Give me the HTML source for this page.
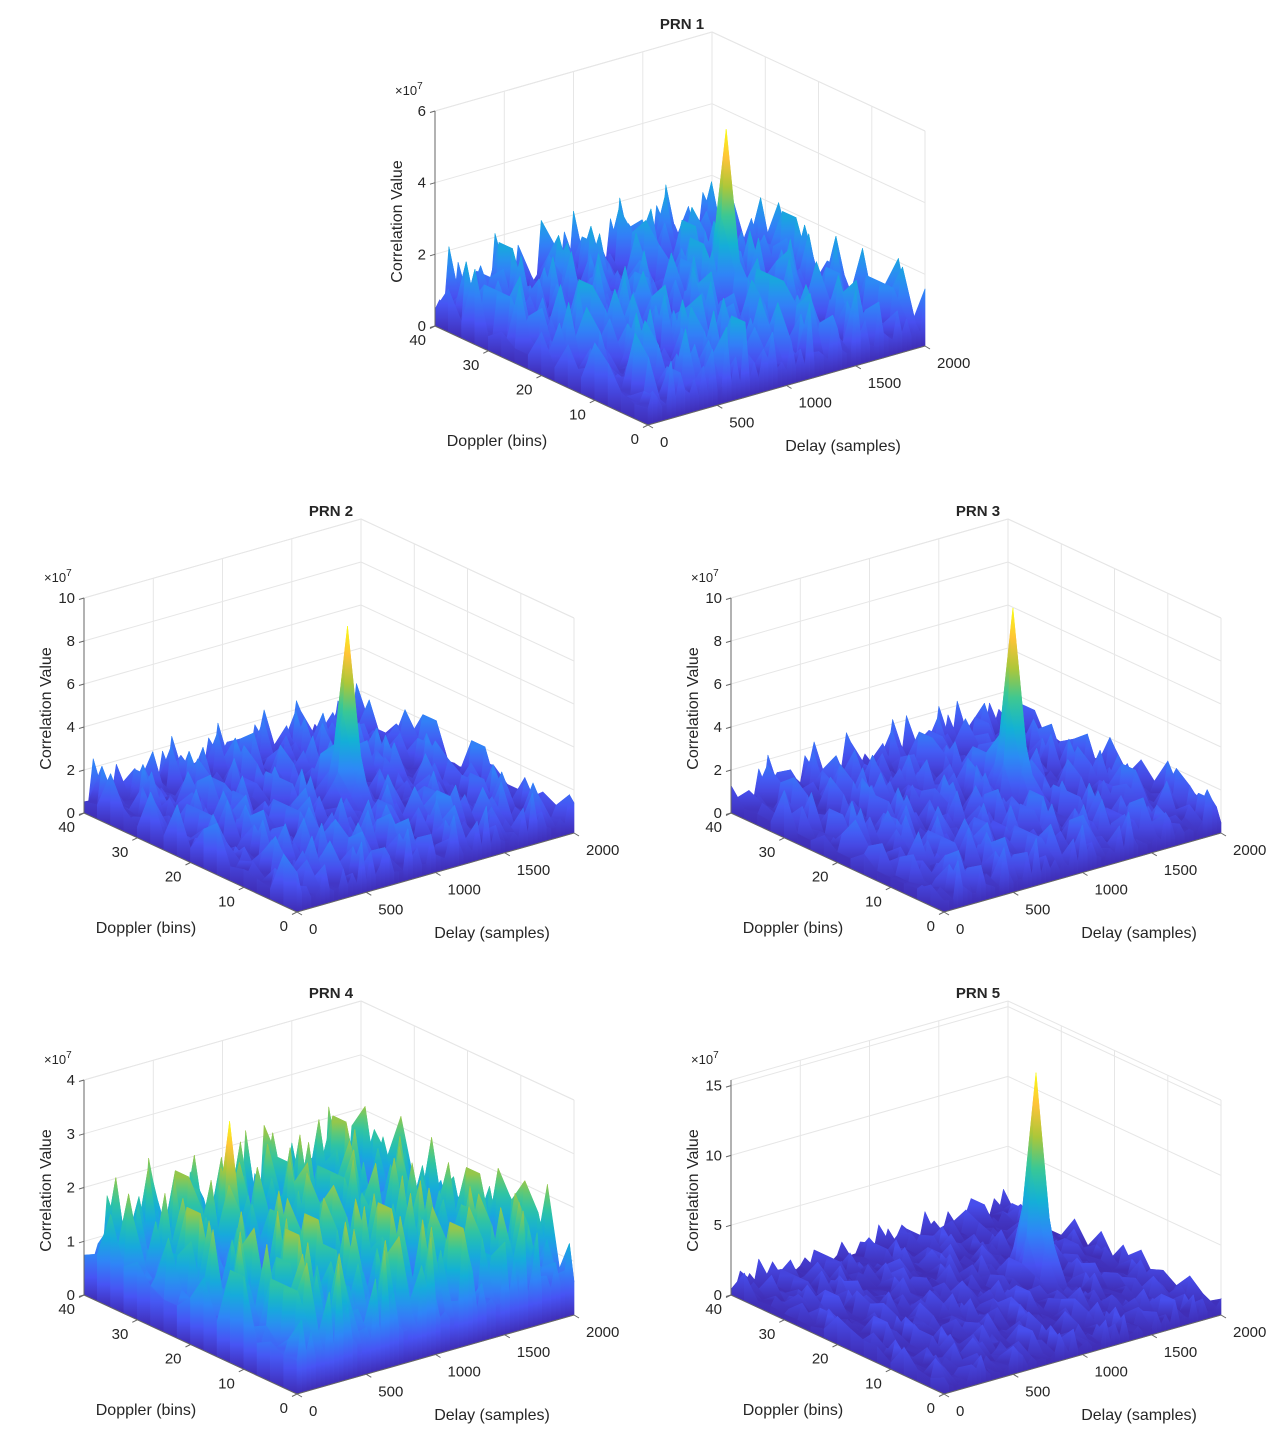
<!DOCTYPE html>
<html><head><meta charset="utf-8"><title>PRN correlation surfaces</title>
<style>
html,body{margin:0;padding:0;background:#fff;}
svg{display:block;font-family:"Liberation Sans",Arial,sans-serif;}
text{fill:#262626;}
</style></head>
<body>
<svg id="fig" width="1280" height="1436" viewBox="0 0 1280 1436" xmlns="http://www.w3.org/2000/svg">
<rect x="0" y="0" width="1280" height="1436" fill="#ffffff"/>
<defs id="defs"></defs>
</svg>
<script>
// ---- data (values in units of 1e7) ----
const titles = ["PRN 1", "PRN 2", "PRN 3", "PRN 4", "PRN 5"];
const zLimits = [6, 10, 10, 4, 15.4];
const zTicks1 = [0, 2, 4, 6];
const zTicks2 = [0, 2, 4, 6, 8, 10];
const zTicks3 = [0, 2, 4, 6, 8, 10];
const zTicks4 = [0, 1, 2, 3, 4];
const zTicks5 = [0, 5, 10, 15];
const delayTicks = [0, 500, 1000, 1500, 2000];
const dopplerTicks = [0, 10, 20, 30, 40];
const peakValue = [5.4, 8.9, 9.5, 3.2, 15.4];
const peakDelay = [1346, 1127, 1258, 676, 1447];
const peakDoppler = [20, 20, 20, 30, 20];
const noiseMin = [0.4, 0.5, 0.45, 0.6, 0.4];
const noiseMax = [2.1, 2.4, 2.2, 2.2, 2.0];
// hand-typed texture of relative noise levels (0-9)
const texture = "3716285940372518694027365184936250817462938150473629184057362819403756281947306528174935062817493026581749360285174930628517394062871539406287153940628175394062817354906281735490628173549026817354920681735492068173549206817354920681375492068137549206813754290681375429068137542906813754290";

// ---- layout (not data) ----
const origins = [[648,425],[297,912],[944,912],[297,1394],[944,1394]];
const vD = [277,-79], vP = [-213,-99], HZ = 215;
const NX = 60, NY = 16;
const parula = [[62,38,168],[72,82,244],[46,135,247],[18,177,214],[55,200,151],[171,199,57],[254,195,56],[249,251,21]];
function cmap(t){
  t = Math.max(0, Math.min(1, t)) * (parula.length - 1);
  const k = Math.min(parula.length - 2, Math.floor(t)), f = t - k;
  const a = parula[k], b = parula[k+1];
  return "rgb(" + [0,1,2].map(c => Math.round(a[c] + (b[c]-a[c]) * f)).join(",") + ")";
}
const svg = document.getElementById("fig");
const defs = document.getElementById("defs");
const NS = "http://www.w3.org/2000/svg";
function mk(tag, attrs, parent){
  const e = document.createElementNS(NS, tag);
  for (const k in attrs) e.setAttribute(k, attrs[k]);
  (parent || svg).appendChild(e);
  return e;
}
function addStops(lg, tTop, tBot){
  const steps = Math.max(1, Math.ceil(Math.abs(tTop - tBot) * 14));
  for (let s = 0; s <= steps; s++){
    const f = s / steps;
    mk("stop", {offset:f.toFixed(3), "stop-color":cmap(tTop + (tBot - tTop) * f)}, lg);
  }
}
const allZTicks = [zTicks1, zTicks2, zTicks3, zTicks4, zTicks5];
let gradId = 0;

function drawPlot(n){
  const O = origins[n], zmax = zLimits[n];
  const g = mk("g", {});
  
  
  const P = (d, p, z) => [O[0] + vD[0]*d/2000 + vP[0]*p/40, O[1] + vD[1]*d/2000 + vP[1]*p/40 - HZ*z/zmax];
  const line = (a, b, stroke, w, name, parent) => {
    const l = mk("line", {x1:a[0].toFixed(1), y1:a[1].toFixed(1), x2:b[0].toFixed(1), y2:b[1].toFixed(1), stroke:stroke, "stroke-width":w}, parent || g);
    
    
    return l;
  };
  const zt = allZTicks[n];
  const grid = "#e6e6e6";
  delayTicks.forEach(d => line(P(d,40,0), P(d,40,zmax), grid, 1, 'grid-line'));
  dopplerTicks.forEach(p => line(P(2000,p,0), P(2000,p,zmax), grid, 1, 'grid-line'));
  zt.forEach(z => { line(P(0,40,z), P(2000,40,z), grid, 1, 'grid-line'); line(P(2000,40,z), P(2000,0,z), grid, 1, 'grid-line'); });
  delayTicks.forEach(d => line(P(d,0,0), P(d,40,0), grid, 1, 'grid-line'));
  dopplerTicks.forEach(p => line(P(0,p,0), P(2000,p,0), grid, 1, 'grid-line'));
  line(P(0,40,zmax), P(2000,40,zmax), grid, 1, 'box-edge');
  line(P(2000,40,zmax), P(2000,0,zmax), grid, 1, 'box-edge');

  // heights grid
  const H = [];
  const off = n * 53;
  for (let j = 0; j <= NY; j++){
    H.push([]);
    for (let i = 0; i <= NX; i++){
      const t = (+texture[(j*61 + i*3 + off + j*j) % texture.length]) / 9;
      H[j].push(noiseMin[n] + (noiseMax[n] - noiseMin[n]) * t * t * t);
    }
  }
  const ip = Math.round(peakDelay[n] / 2000 * NX), jp = Math.round(peakDoppler[n] / 40 * NY);
  const setMax = (j, i, v) => { if (j >= 0 && j <= NY && i >= 0 && i <= NX) H[j][i] = Math.max(H[j][i], v); };
  const pv = peakValue[n];
  setMax(jp, ip, pv);
  setMax(jp, ip-1, pv*0.55); setMax(jp, ip+1, pv*0.55);
  setMax(jp, ip-2, pv*0.25); setMax(jp, ip+2, pv*0.25);
  setMax(jp-1, ip, pv*0.35); setMax(jp+1, ip, pv*0.35);
  setMax(jp-1, ip-1, pv*0.22); setMax(jp+1, ip+1, pv*0.22);
  setMax(jp-1, ip+1, pv*0.22); setMax(jp+1, ip-1, pv*0.22);
  let cmax = 0; H.forEach(r => r.forEach(v => cmax = Math.max(cmax, v)));

  const sg = mk("g", {}, g);
  
  
  const patches = [];
  for (let j = 0; j < NY; j++) for (let i = 0; i < NX; i++){
    const d0 = i*2000/NX, d1 = (i+1)*2000/NX, p0 = j*40/NY, p1 = (j+1)*40/NY;
    const depth = P((d0+d1)/2, (p0+p1)/2, 0)[1];
    patches.push({i, j, d0, d1, p0, p1, depth});
  }
  patches.sort((a, b) => a.depth - b.depth);
  patches.forEach(q => {
    const {i, j, d0, d1, p0, p1} = q;
    const hs = [H[j][i], H[j][i+1], H[j+1][i+1], H[j+1][i]];
    const pts = [P(d0,p0,hs[0]), P(d1,p0,hs[1]), P(d1,p1,hs[2]), P(d0,p1,hs[3])];
    let hi = 0, lo = 0;
    for (let k = 1; k < 4; k++){ if (hs[k] > hs[hi]) hi = k; if (hs[k] < hs[lo]) lo = k; }
    let fill;
    if (hs[hi] - hs[lo] > 0.15 && Math.abs(pts[hi][1] - pts[lo][1]) > 2){
      const id = "pg" + (gradId++);
      const lg = mk("linearGradient", {id:id, gradientUnits:"userSpaceOnUse", x1:0, y1:pts[hi][1].toFixed(1), x2:0, y2:pts[lo][1].toFixed(1)}, defs);
      addStops(lg, hs[hi]/cmax, hs[lo]/cmax);
      fill = "url(#"+id+")";
    } else {
      fill = cmap((hs[0]+hs[1]+hs[2]+hs[3])/4/cmax);
    }
    const poly = mk("polygon", {points: pts.map(p => p[0].toFixed(1)+","+p[1].toFixed(1)).join(" "), fill:fill, stroke:fill, "stroke-width":0.6, "stroke-linejoin":"round"}, sg);
    
    
  });
  // front skirts
  const skirt = (a0, a1, h0, h1) => {
    const id = "sk" + (gradId++);
    const lg = mk("linearGradient", {id:id, x1:0, y1:0, x2:0, y2:1}, defs);
    addStops(lg, Math.max(h0,h1)/cmax, 0.02);
    const pts = [P(a0[0],a0[1],h0), P(a1[0],a1[1],h1), P(a1[0],a1[1],0), P(a0[0],a0[1],0)];
    const poly = mk("polygon", {points: pts.map(p => p[0].toFixed(1)+","+p[1].toFixed(1)).join(" "), fill:"url(#"+id+")", stroke:"url(#"+id+")", "stroke-width":0.6}, sg);
    
    
  };
  for (let j = NY-1; j >= 0; j--) skirt([0, j*40/NY], [0, (j+1)*40/NY], H[j][0], H[j+1][0]);
  for (let i = NX-1; i >= 0; i--) skirt([i*2000/NX, 0], [(i+1)*2000/NX, 0], H[0][i], H[0][i+1]);

  // axes
  const ax = "#666";
  line(P(0,40,0), P(0,40,zmax), ax, 1, 'z-axis-line');
  line(P(0,0,0), P(2000,0,0), ax, 1, 'delay-axis-line');
  line(P(0,0,0), P(0,40,0), ax, 1, 'doppler-axis-line');
  const txt = (x, y, s, anchor, name, extra) => {
    const t = mk("text", Object.assign({x:x.toFixed(1), y:y.toFixed(1), "text-anchor":anchor, "font-size":15}, extra || {}), g);
    t.textContent = s;
    
    
    return t;
  };
  zt.forEach(z => {
    const p = P(0,40,z);
    line(p, [p[0]-5, p[1]+1.5], ax, 1, 'z-tick');
    txt(p[0]-9, p[1]+5, String(z), "end", 'z-tick-label');
  });
  delayTicks.forEach(d => {
    const p = P(d,0,0);
    line(p, [p[0]+5, p[1]+3], ax, 1, 'delay-tick');
    txt(p[0]+12, p[1]+22, String(d), "start", 'delay-tick-label');
  });
  dopplerTicks.forEach(v => {
    const p = P(0,v,0);
    line(p, [p[0]-5, p[1]+2.5], ax, 1, 'doppler-tick');
    txt(p[0]-9, p[1]+19, String(v), "end", 'doppler-tick-label');
  });
  const zTop = P(0,40,zmax), zBot = P(0,40,0);
  const ex = txt(zTop[0]-40, zTop[1]-16, "×10", "start", 'z-exponent-label', {"font-size":13, fill:"#555"});
  const sup = mk("tspan", {dy:-6, "font-size":10}, ex); sup.textContent = "7";
  
  
  const cx = zTop[0]-33, cy = (zTop[1]+zBot[1])/2 + 3;
  txt(cx, cy, "Correlation Value", "middle", 'z-axis-title', {transform:"rotate(-90 "+cx.toFixed(1)+" "+cy.toFixed(1)+")", "font-size":16});
  txt(O[0]-151, O[1]+21, "Doppler (bins)", "middle", 'doppler-axis-title', {"font-size":16});
  txt(O[0]+195, O[1]+26, "Delay (samples)", "middle", 'delay-axis-title', {"font-size":16});
  txt(O[0]+34, O[1]-396, titles[n], "middle", 'plot-title', {"font-size":15, "font-weight":"bold", fill:"#111"});
}
for (let n = 0; n < titles.length; n++) drawPlot(n);
</script>
</body></html>
